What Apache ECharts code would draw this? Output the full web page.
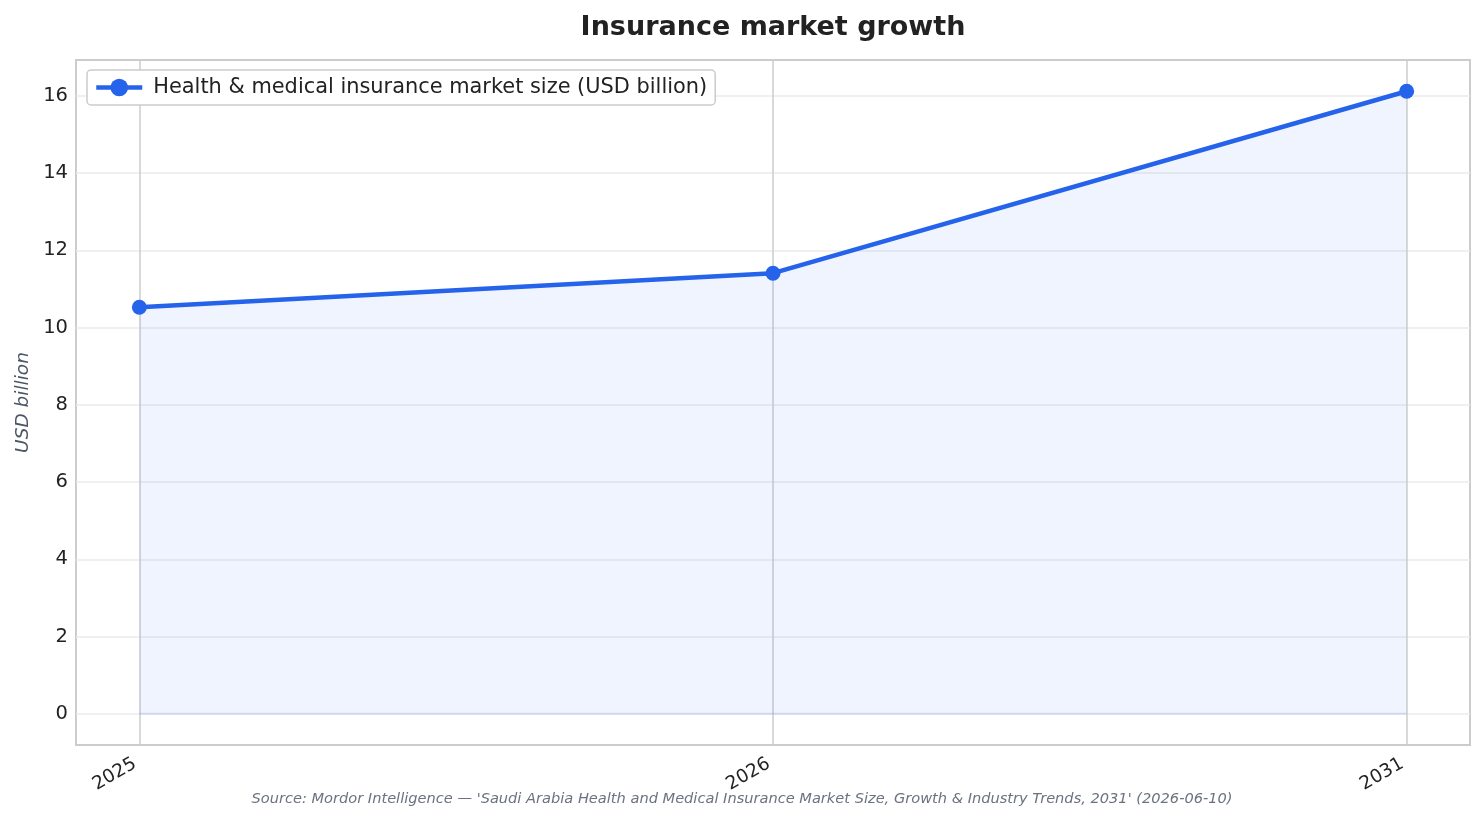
<!DOCTYPE html>
<html>
<head>
<meta charset="utf-8">
<title>Insurance market growth</title>
<script src="https://cdn.jsdelivr.net/npm/echarts@6/dist/echarts.min.js"></script>
<style>
  html, body { margin: 0; padding: 0; background: #fff; }
  #chart { width: 1484px; height: 823px; }
</style>
</head>
<body>
<div id="chart"></div>
<script>
// chart data
const years = ["2025", "2026", "2031"];
const marketSize = [10.53, 11.41, 16.12];
const yTicks = [0, 2, 4, 6, 8, 10, 12, 14, 16];
const xTicks = [0, 1, 2];

const seriesName = "Health & medical insurance market size (USD billion)";
const sourceText = "Source: Mordor Intelligence \u2014 'Saudi Arabia Health and Medical Insurance Market Size, Growth & Industry Trends, 2031' (2026-06-10)";

const font = "DejaVu Sans, Verdana, sans-serif";
const blue = "#2563eb";

const chart = echarts.init(document.getElementById("chart"));

const points = years.map((y, i) => [i, marketSize[i]]);
// edge of the filled area along zero, first to last year
const baseline = [[0, 0], [years.length - 1, 0]];

const option = {
  animation: false,
  textStyle: { fontFamily: font },
  grid: { left: 76, right: 14, top: 60, bottom: 78, containLabel: false,
          show: true, borderColor: "#cccccc", borderWidth: 2 },
  legend: {
    left: 87, top: 70,
    padding: [7, 8, 7, 7],
    borderColor: "#cccccc", borderWidth: 1.5, borderRadius: 4,
    backgroundColor: "#ffffff",
    itemWidth: 46, itemHeight: 22,
    lineStyle: { width: 4.5 },
    textStyle: { fontSize: 20.9, color: "#222222", fontFamily: font, padding: [0, 0, 0, 6] },
    data: [seriesName]
  },
  graphic: [
    {
      type: "text", x: 773, y: 14,
      style: { text: "Insurance market growth", fontFamily: font, fontSize: 27,
               fontWeight: "bold", fill: "#222222", textAlign: "center" }
    },
    {
      type: "text", x: 742, y: 792,
      style: { text: sourceText, fontFamily: font, fontSize: 14.6, fontStyle: "italic",
               fill: "#6b7280", textAlign: "center" }
    }
  ],
  xAxis: {
    type: "value",
    min: -0.1, max: 2.1,
    axisLine: { show: false },
    axisTick: { show: false, customValues: xTicks },
    axisLabel: {
      customValues: xTicks,
      rotate: 30, margin: 15,
      padding: [0, 5, 0, 0],
      fontSize: 18.5, color: "#222222", fontFamily: font,
      formatter: v => years[Math.round(v)]
    },
    splitLine: { show: true, customValues: xTicks, lineStyle: { color: "#cccccc", width: 1.5 } }
  },
  yAxis: {
    type: "value",
    min: -0.806, max: 16.93,
    name: "USD billion",
    nameLocation: "middle",
    nameGap: 42,
    nameTextStyle: { fontSize: 18.5, fontStyle: "italic", color: "#4b5563", fontFamily: font },
    axisLine: { show: false },
    axisTick: { show: false, customValues: yTicks },
    axisLabel: { customValues: yTicks, margin: 8, fontSize: 19.5, color: "#222222", fontFamily: font },
    splitLine: { show: true, customValues: yTicks, lineStyle: { color: "#ebebeb", width: 1.5 } }
  },
  series: [
    {
      name: "fill edge",
      type: "line",
      data: baseline,
      symbol: "none",
      silent: true,
      lineStyle: { color: "rgba(37, 99, 235, 0.14)", width: 2 },
      z: 2
    },
    {
      name: seriesName,
      type: "line",
      data: points,
      symbol: "circle",
      symbolSize: 15,
      itemStyle: { color: blue },
      lineStyle: { color: blue, width: 4.5 },
      areaStyle: { color: "rgba(37, 99, 235, 0.1)", origin: 0 },
      z: 3
    }
  ]
};

chart.setOption(option);
</script>
</body>
</html>
